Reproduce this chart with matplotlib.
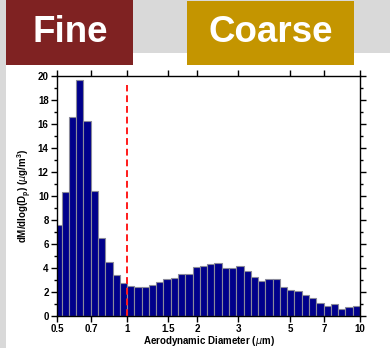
import numpy as np
import matplotlib.pyplot as plt
from matplotlib.patches import Rectangle
from matplotlib.ticker import FixedLocator, FixedFormatter, MultipleLocator

plt.rcParams['font.family'] = ['Liberation Sans', 'DejaVu Sans']

# 32 bins per decade, mass size distribution
fine_vals = [7.56, 10.33, 16.53, 19.6, 16.19, 10.39, 6.5, 4.5, 3.36, 2.72]
coarse_vals = [2.5, 2.36, 2.42, 2.56, 2.78, 3.08, 3.17, 3.47, 3.47, 4.03,
               4.17, 4.33, 4.42, 4.0, 3.94, 4.17, 3.69, 3.22, 2.92, 3.03,
               3.08, 2.42, 2.14, 2.06, 1.69, 1.47, 1.03, 0.81, 0.94, 0.53,
               0.69, 0.78]
tick_vals = [0.5, 0.7, 1, 1.5, 2, 3, 5, 7, 10]
tick_labels = ['0.5', '0.7', '1', '1.5', '2', '3', '5', '7', '10']

vals = np.array(fine_vals + coarse_vals)
k = np.arange(-len(fine_vals), len(coarse_vals))
left = 10 ** (k / 32)
right = 10 ** ((k + 1) / 32)

fig = plt.figure(figsize=(3.9, 3.48), dpi=100)
fig.patch.set_facecolor('white')

# grey frame of the slide
fig.patches.append(Rectangle((0, 1 - 53 / 348), 1, 53 / 348, transform=fig.transFigure,
                             facecolor='#d9d9d9', edgecolor='none', zorder=0))
fig.patches.append(Rectangle((0, 0), 6 / 390, 1, transform=fig.transFigure,
                             facecolor='#d9d9d9', edgecolor='none', zorder=0))
# Fine / Coarse boxes
fig.patches.append(Rectangle((6 / 390, 1 - 65 / 348), 127 / 390, 65 / 348, transform=fig.transFigure,
                             facecolor='#7f2222', edgecolor='none', zorder=1))
fig.patches.append(Rectangle((187 / 390, 1 - 65 / 348), 167 / 390, 64 / 348, transform=fig.transFigure,
                             facecolor='#c49500', edgecolor='none', zorder=1))
fig.text(70 / 390, 1 - 32 / 348, 'Fine', color='white', fontsize=26.5, fontweight='bold',
         ha='center', va='center')
fig.text(271 / 390, 1 - 33 / 348, 'Coarse', color='white', fontsize=26.5, fontweight='bold',
         ha='center', va='center')

ax = fig.add_axes([57 / 390, 32.3 / 348, 303 / 390, 240 / 348])
ax.bar(left, vals, width=right - left, align='edge', color='#00008b',
       edgecolor='#8a8a9a', linewidth=0.8)
ax.plot([1, 1], [0, 19.2], color='#ff1a1a', linestyle=(0, (3.5, 2)), linewidth=1.4)

ax.set_xscale('log')
ax.set_xlim(0.5, 10)
ax.set_ylim(0, 20)
ax.xaxis.set_major_locator(FixedLocator(tick_vals))
ax.xaxis.set_major_formatter(FixedFormatter(tick_labels))
ax.xaxis.set_minor_locator(FixedLocator([]))
ax.yaxis.set_major_locator(MultipleLocator(2))
ax.yaxis.set_minor_locator(MultipleLocator(1))
ax.tick_params(which='both', direction='out', top=True, right=True,
               labelsize=7, width=1, pad=2)
ax.tick_params(which='major', length=4)
ax.tick_params(which='minor', length=2)
for lab in ax.get_xticklabels() + ax.get_yticklabels():
    lab.set_fontweight('bold')
for s in ax.spines.values():
    s.set_linewidth(1)

ax.set_xlabel('Aerodynamic Diameter ($\\mu$m)', fontsize=7, fontweight='bold', labelpad=0)
ax.set_ylabel('dM/dlog(D$_\\mathregular{p}$) ($\\mu$g/m$^\\mathregular{3}$)', fontsize=7,
              fontweight='bold', labelpad=3)

fig.savefig('out.png', dpi=100)
